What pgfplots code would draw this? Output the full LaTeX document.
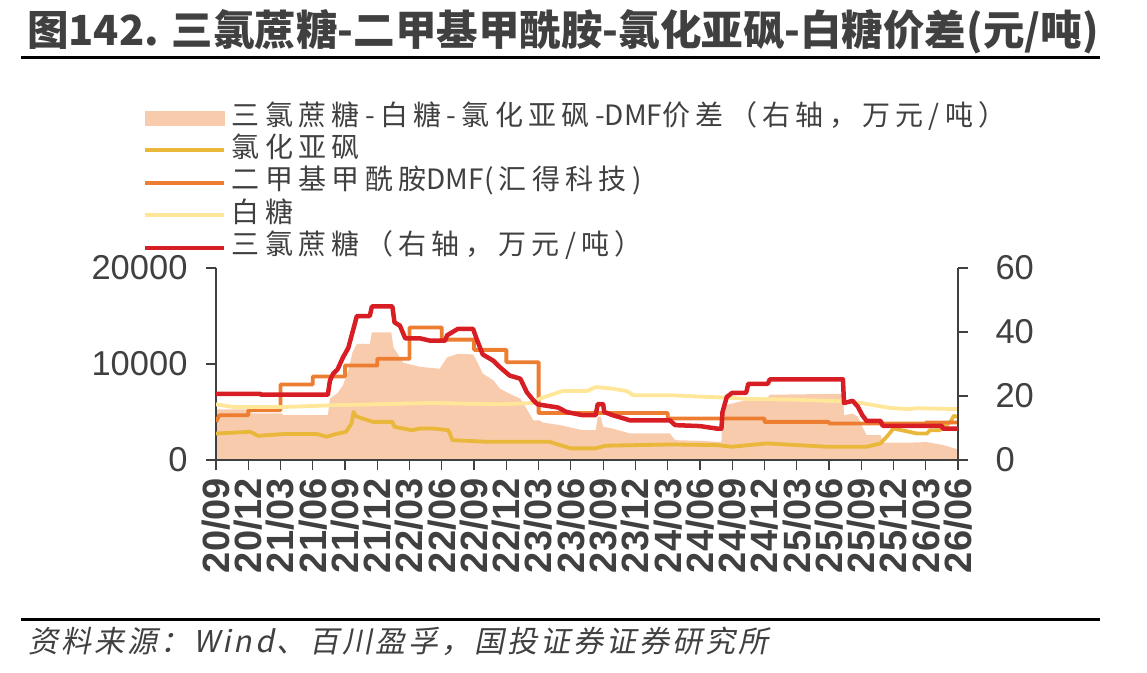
\documentclass[border=0pt]{standalone}
\usepackage{fontspec}
\usepackage{pgfplots}
\pgfplotsset{compat=1.18}
\setmainfont{Liberation Sans}
\newfontfamily\cjkleg{Noto Sans CJK SC}[LetterSpace=19]
\newfontfamily\cjkplain{Noto Sans CJK SC}
\newfontfamily\cjktitle{Noto Sans CJK SC}
\newfontfamily\cjksrc{Noto Sans CJK SC}[FakeSlant=0.2,LetterSpace=10]
\definecolor{txt}{HTML}{404040}
\definecolor{peach}{HTML}{F8CBAD}
\definecolor{goldc}{HTML}{E9B73A}
\definecolor{orangec}{HTML}{ED7D31}
\definecolor{lyellow}{HTML}{FFE699}
\definecolor{redc}{HTML}{D81E25}
\pgfplotsset{
  base/.style={width=742pt,height=192pt,scale only axis,
    at={(216pt,-460pt)},anchor=south west,xmin=0,xmax=69},
  tk/.style={tick align=outside, major tick length=10pt,
    tick style={color=txt,line width=1.2pt},
    axis line style={color=txt,line width=1.2pt,-}},
}
\begin{document}
\begin{tikzpicture}[x=1pt,y=1pt]
\useasboundingbox (0,0) rectangle (1147,-672);
\node[anchor=base west,text=txt,inner sep=0pt] at (27,-45)
  {\cjktitle\bfseries\fontsize{41.5}{42}\selectfont 图142. 三氯蔗糖-二甲基甲酰胺-氯化亚砜-白糖价差(元/吨)};
\draw[line width=3pt] (21,-57) -- (1100,-57);
\draw[line width=3pt] (21,-619) -- (1100,-619);
\node[anchor=base west,text=txt,inner sep=0pt] at (28,-652)
  {\cjksrc\fontsize{30}{30}\selectfont 资料来源：Wind、百川盈孚，国投证券证券研究所};

% area (right axis scale)
\begin{axis}[base,ymin=0,ymax=60,hide axis]
\addplot[fill=peach,draw=none] coordinates {
(0,15.8) (3.3,15.8) (3.3,14.6) (6.2,14.6) (6.2,14.0) (10.4,14.0)
(10.6,19.2) (11.3,20.9) (11.8,23.3) (12.3,28) (12.7,33.7) (13.1,36.3)
(14.3,36.3) (14.5,39.9) (16.3,39.9) (16.5,35.2) (17.1,32.1) (17.4,30.4)
(19.0,29.1) (20.0,28.8) (20.8,28.5) (21.5,32.1) (22.5,33.2) (23.9,33.0)
(24.3,30.6) (24.8,27) (25.8,24.9) (26.4,22.3) (27.3,20.7) (28.3,19.2)
(28.9,15.9) (29.5,12.4) (30.1,12.4) (30.4,11.7) (32,10.9) (34.1,9.3)
(35.3,9.3) (35.5,13.5) (35.8,13.5) (36.0,10.4) (36.9,9.8) (38.5,8.3)
(42.2,8.3) (42.7,6.2) (45,6.0) (46.6,5.7) (47.0,5.7) (47.1,16.6)
(47.8,17.5) (49.3,18.7) (51.3,19.5) (51.5,20.4) (58.3,20.7) (58.4,14)
(59.2,14.5) (59.7,13.5) (60.1,10.4) (60.5,7.8) (61.8,7.8) (62.0,5.4)
(64.2,5.4) (66.1,5.6) (67.6,4.7) (69,3.3)
} \closedcycle;
\end{axis}

% left axis lines
\begin{axis}[base,tk,ymin=0,ymax=20000,
  axis x line*=bottom, axis y line*=left,
  scaled y ticks=false,
  xtick={0,3,...,69},
  xticklabels={20/09,20/12,21/03,21/06,21/09,21/12,22/03,22/06,22/09,22/12,23/03,23/06,23/09,23/12,24/03,24/06,24/09,24/12,25/03,25/06,25/09,25/12,26/03,26/06},
  xticklabel style={rotate=90,anchor=east,text=txt,inner sep=0pt,outer xsep=8pt,
    font=\bfseries\fontsize{38}{38}\selectfont},
  ytick={0,10000,20000}, yticklabels={0,10000,20000},
  yticklabel style={text=txt,xshift=-15pt,font=\fontsize{34.5}{35}\selectfont},
  line join=round]
\addplot[goldc,line width=3.8pt] coordinates {
(0,2760) (3.2,2940) (3.9,2520) (6.2,2700) (9.4,2700) (10.3,2420) (11.1,2700)
(12.1,2940) (12.6,3800) (12.8,5010) (13.0,4560) (14.6,3970) (16.4,3970)
(16.6,3450) (18.2,3110) (19.0,3280) (20.2,3280) (21.6,3110) (22.0,2070)
(25.2,1900) (31.0,1900) (32.0,1550) (33.0,1210) (35.3,1210) (36.2,1490)
(42.4,1620) (46.6,1550) (48.0,1380) (51.2,1730) (56.8,1380) (60.5,1380)
(61.8,1730) (62.5,2590) (63.0,3280) (65.2,2760) (66.1,2760) (66.4,3110)
(67.3,3110) (68.3,3970) (68.6,4590) (69,4500)};
\addplot[orangec,line width=3.8pt] coordinates {
(0,3970) (0.3,4660) (3,4660) (3,5180) (6,5180) (6,7870) (9,7870) (9,8700)
(12,8700) (12,9840) (15,9840) (15,10540) (18,10540) (18,13810) (21,13810)
(21,12540) (24,12540) (24,11470) (27,11470) (27,10190) (30,10190) (30,4900)
(42,4900) (42,4320) (51,4320) (51,3970) (57,3970) (57,3800) (66,3800)
(66,3900) (69,3900)};
\addplot[lyellow,line width=3.8pt] coordinates {
(0,5800) (1.6,5520) (6.2,5520) (10.8,5700) (20.2,5940) (26.4,5800) (29.5,5940)
(30.1,6390) (32.2,7180) (34.5,7180) (35.3,7600) (36.9,7430) (38.2,7180)
(38.8,6740) (42.4,6740) (45.9,6560) (47.5,6500) (49.4,6370) (53.6,6290)
(58.0,6120) (59.9,5950) (62.7,5420) (64.5,5300) (65.2,5400) (67,5350) (69,5300)};
\end{axis}

% right axis, red line, legend
\begin{axis}[base,tk,ymin=0,ymax=60,
  axis x line=none, axis y line*=right,
  ytick={0,20,40,60}, yticklabels={0,20,40,60},
  yticklabel style={text=txt,xshift=24pt,font=\fontsize{34.5}{35}\selectfont},
  legend cell align=left,
  legend style={at={(-0.0984,1.854)},anchor=north west,draw=none,fill=none,
    inner sep=0pt,outer sep=0pt,row sep=4.4pt,text=txt,
    font=\cjkleg\fontsize{28}{28}\selectfont,
    nodes={inner sep=0pt,text height=21pt,text depth=7pt}},
  line join=round]
\addlegendimage{legend image code/.code={\fill[peach] (0pt,-7pt) rectangle (79pt,7pt); \path[draw=none,fill=none] (0pt,-8pt) rectangle (87pt,8pt);}}
\addlegendentry{三氯蔗糖-白糖-氯化亚砜-{\cjkplain DMF}价差（右轴，万元/吨）}
\addlegendimage{legend image code/.code={\draw[goldc,line width=4pt] (0pt,0pt) -- (79pt,0pt); \path[draw=none,fill=none] (0pt,-8pt) rectangle (87pt,8pt);}}
\addlegendentry{氯化亚砜}
\addlegendimage{legend image code/.code={\draw[orangec,line width=4pt] (0pt,0pt) -- (79pt,0pt); \path[draw=none,fill=none] (0pt,-8pt) rectangle (87pt,8pt);}}
\addlegendentry{二甲基甲酰胺{\cjkplain DMF}(汇得科技)}
\addlegendimage{legend image code/.code={\draw[lyellow,line width=4pt] (0pt,0pt) -- (79pt,0pt); \path[draw=none,fill=none] (0pt,-8pt) rectangle (87pt,8pt);}}
\addlegendentry{白糖}
\addplot[redc,line width=4.5pt,
  legend image code/.code={\draw[redc,line width=4pt] (0pt,0pt) -- (79pt,0pt); \path[draw=none,fill=none] (0pt,-8pt) rectangle (87pt,8pt);}]
  coordinates {
(0,20.7) (4.1,20.7) (4.2,20.4) (10.4,20.4) (10.6,24.9) (10.9,27) (11.3,28.3)
(11.8,32) (12.3,35) (12.7,40) (13.1,45) (14.3,45) (14.5,48) (16.4,48)
(16.6,43) (17.1,42) (17.6,38) (19,38) (19.9,37.3) (21.3,37.3) (21.5,39)
(22.5,41) (23.9,41) (24.3,37.3) (24.8,33) (25.8,31) (26.4,29) (27.3,26.4)
(28.3,25.4) (28.9,21.2) (29.5,18.7) (29.9,17.4) (31.8,16.4) (32.6,15)
(34.1,14) (35.3,14) (35.5,17.5) (36.0,17.5) (36.1,15) (36.9,14) (38.5,12.4)
(42.2,12.4) (42.7,10.9) (45,10.6) (46.6,9.8) (47.0,9.8) (47.1,15) (47.5,19.7)
(48.0,21) (49.3,21) (49.5,23.8) (51.3,23.8) (51.5,25.2) (58.3,25.2)
(58.4,17.8) (59.2,18.5) (59.7,16.6) (60.1,14) (60.5,12.2) (61.8,12.2)
(62.0,10.7) (67.5,10.7) (67.6,9.8) (69,9.8)};
\addlegendentry{三氯蔗糖（右轴，万元/吨）}
\end{axis}
\end{tikzpicture}
\end{document}
